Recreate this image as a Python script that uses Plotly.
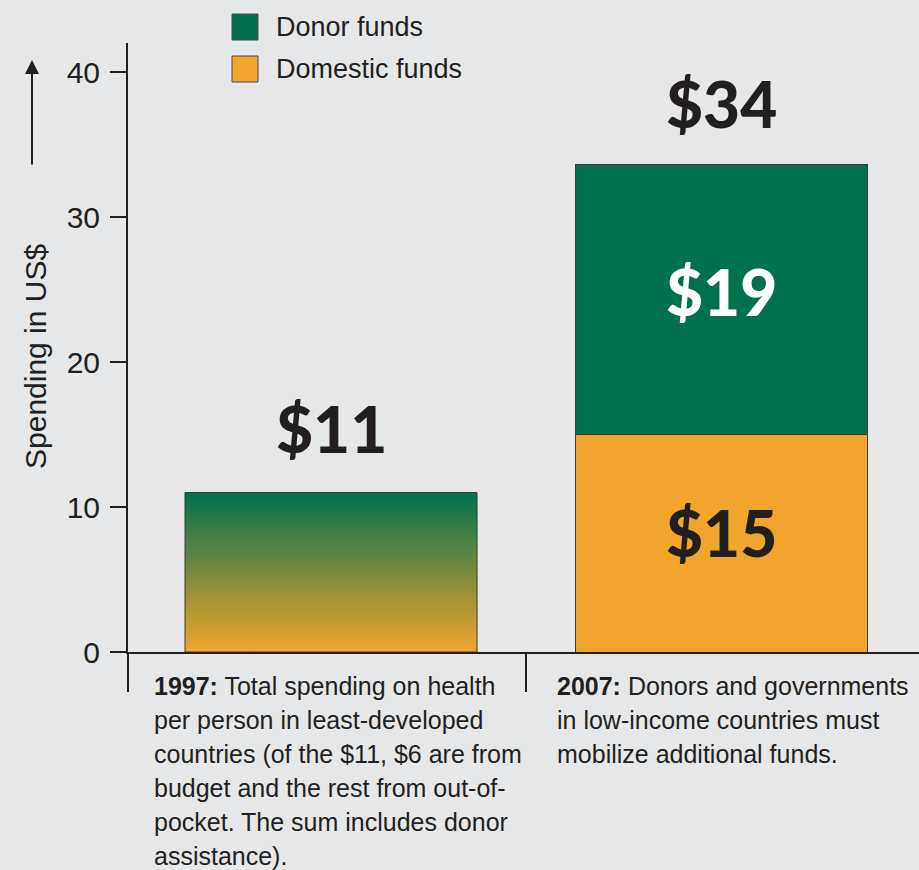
import plotly.graph_objects as go

# ---- data ----
years = ["1997", "2007"]
year_pos = [0, 1]
total_1997 = 11
domestic_2007 = 15
donor_2007 = 18.6
series_names = ["Donor funds", "Domestic funds"]
y_ticks = [0, 10, 20, 30, 40]
y_title = "Spending in US$"
notes_1997 = ["<b>1997:</b> Total spending on health",
              "per person in least-developed",
              "countries (of the $11, $6 are from",
              "budget and the rest from out-of-",
              "pocket. The sum includes donor",
              "assistance)."]
notes_2007 = ["<b>2007:</b> Donors and governments",
              "in low-income countries must",
              "mobilize additional funds."]

# ---- style ----
W, H = 919, 870
ML, MR, MT, MB = 128, 0, 43, 218
BG = "#e6e7e9"
GREEN = "#00704f"
ORANGE = "#f2a52c"
INK = "#231f20"
BAR_W = 0.748
X_RANGE = [-0.52, 1.506]
Y_RANGE = [0, 42]
TXT = "Liberation Sans, Arial, Helvetica, sans-serif"
BIG = dict(family="Lato, Open Sans, sans-serif", size=64, weight=900)

pw, ph = W - ML - MR, H - MT - MB


def px_x(px):
    return (px - ML) / pw


def px_y(py):
    return (H - MB - py) / ph


fig = go.Figure()

# 1997 total bar (gradient drawn by a filled scatter polygon built from the value)
x0 = year_pos[0]
fig.add_trace(go.Bar(x=[x0], y=[total_1997], width=BAR_W, name="Total " + years[0],
                     marker=dict(color="rgba(0,0,0,0)", line=dict(width=0)),
                     showlegend=False))
fig.add_trace(go.Scatter(
    x=[x0 - BAR_W / 2, x0 + BAR_W / 2, x0 + BAR_W / 2, x0 - BAR_W / 2, x0 - BAR_W / 2],
    y=[0, 0, total_1997, total_1997, 0],
    mode="lines", fill="toself",
    fillgradient=dict(type="vertical", colorscale=[[0, ORANGE], [1, GREEN]]),
    line=dict(color="#3a3a3a", width=1), showlegend=False, hoverinfo="skip"))

# 2007 stacked bars
x1 = year_pos[1]
fig.add_trace(go.Bar(x=[x1], y=[domestic_2007], width=BAR_W, name=series_names[1],
                     marker=dict(color=ORANGE, line=dict(color="#3a3a3a", width=1)),
                     showlegend=False))
fig.add_trace(go.Bar(x=[x1], y=[donor_2007], width=BAR_W, name=series_names[0],
                     marker=dict(color=GREEN, line=dict(color="#3a3a3a", width=1)),
                     showlegend=False))

annotations = []
shapes = []


def money(v):
    return "$" + str(int(round(v)))


total_2007 = domestic_2007 + donor_2007
annotations += [
    dict(x=x0, y=total_1997, xref="x", yref="y", text=money(total_1997), showarrow=False,
         yanchor="middle", yshift=64, font=dict(BIG, color=INK)),
    dict(x=x1, y=total_2007, xref="x", yref="y", text=money(total_2007), showarrow=False,
         yanchor="middle", yshift=61, font=dict(BIG, color=INK)),
    dict(x=x1, y=domestic_2007 + donor_2007 / 2, xref="x", yref="y", text=money(donor_2007),
         showarrow=False, yanchor="middle", yshift=8, font=dict(BIG, color="white")),
    dict(x=x1, y=domestic_2007 / 2, xref="x", yref="y", text=money(domestic_2007),
         showarrow=False, yanchor="middle", yshift=11, font=dict(BIG, color=INK)),
]

# legend (large swatches)
leg_colors = [GREEN, ORANGE]
leg_top = [14, 56]
for name, col, top in zip(series_names, leg_colors, leg_top):
    shapes.append(dict(type="rect", xref="paper", yref="paper",
                       x0=px_x(232), x1=px_x(258), y0=px_y(top + 26), y1=px_y(top),
                       fillcolor=col, line=dict(color="#4a4a4a", width=1)))
    annotations.append(dict(x=px_x(274), y=px_y(top + 13), xref="paper", yref="paper",
                            text=name, showarrow=False, xanchor="left", yanchor="middle",
                            font=dict(family=TXT, size=27, color=INK)))

# y-axis title and the arrow next to it
annotations.append(dict(x=px_x(35), y=px_y(357), xref="paper", yref="paper",
                        text=y_title, textangle=-90, showarrow=False,
                        xanchor="center", yanchor="middle",
                        font=dict(family=TXT, size=30, color=INK)))
annotations.append(dict(x=px_x(32), y=px_y(60), xref="paper", yref="paper",
                        ax=0, ay=106, axref="pixel", ayref="pixel", text="",
                        showarrow=True, arrowhead=2, arrowsize=1.4, arrowwidth=2,
                        arrowcolor=INK))

# notes under the bars
LINE_H = 34
for i, line in enumerate(notes_1997):
    annotations.append(dict(x=px_x(152), y=px_y(686 + i * LINE_H), xref="paper", yref="paper",
                            text=line, showarrow=False, xanchor="left", yanchor="middle",
                            font=dict(family=TXT, size=25, color=INK)))
for i, line in enumerate(notes_2007):
    annotations.append(dict(x=px_x(555), y=px_y(686 + i * LINE_H), xref="paper", yref="paper",
                            text=line, showarrow=False, xanchor="left", yanchor="middle",
                            font=dict(family=TXT, size=25, color=INK)))

fig.update_layout(
    width=W, height=H, barmode="stack",
    margin=dict(l=ML, r=MR, t=MT, b=MB, pad=0),
    paper_bgcolor=BG, plot_bgcolor=BG,
    font=dict(family=TXT, color=INK),
    showlegend=False,
    annotations=annotations, shapes=shapes,
    xaxis=dict(range=X_RANGE, showgrid=False, zeroline=False, showline=True,
               linecolor=INK, linewidth=2, ticks="outside", ticklen=38, tickwidth=2,
               tickcolor=INK, tickvals=[X_RANGE[0], 0.5], showticklabels=False,
               fixedrange=True),
    yaxis=dict(range=Y_RANGE, showgrid=False, zeroline=False, showline=True,
               linecolor=INK, linewidth=2, ticks="outside", ticklen=16, tickwidth=2,
               tickcolor=INK, tickvals=y_ticks, tickfont=dict(size=30, color=INK),
               ticklabelstandoff=4, fixedrange=True),
)

fig.write_html("out.html", config={"displayModeBar": False},
               post_script="document.body.style.margin='0';")
